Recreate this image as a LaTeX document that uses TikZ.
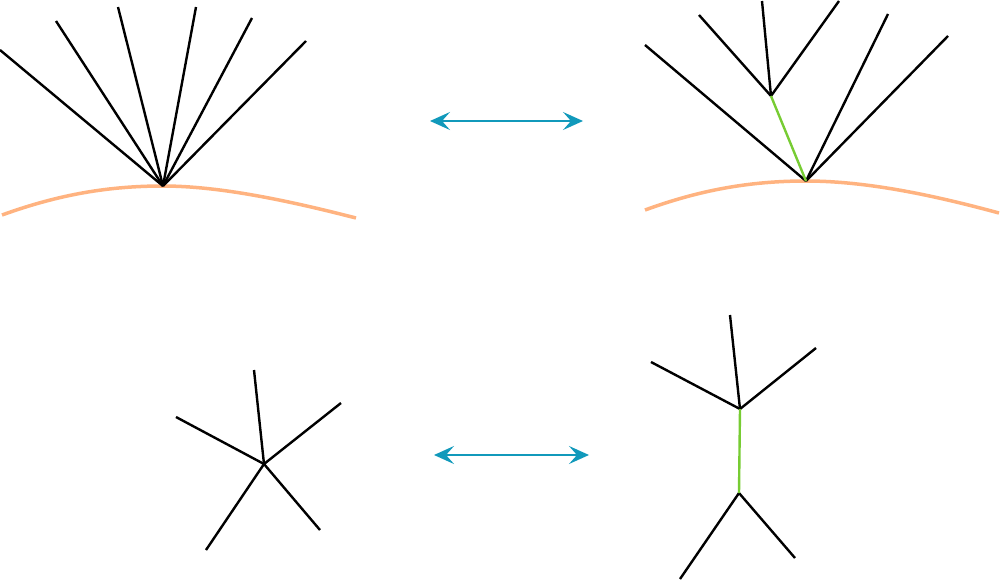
\documentclass[tikz,border=0pt]{standalone}
\usetikzlibrary{arrows.meta}
\definecolor{orng}{HTML}{FFB380}
\definecolor{grn}{HTML}{77CC33}
\definecolor{cyn}{HTML}{1199BB}
\tikzset{edge/.style={line width=2.4pt,black},
 gedge/.style={line width=2.4pt,grn},
 surf/.style={line width=3.5pt,orng},
 dbl/.style={line width=1.8pt,cyn,{Stealth[length=20pt,width=18pt,inset=8pt]}-{Stealth[length=20pt,width=18pt,inset=8pt]}}}
\begin{document}
\begin{tikzpicture}[x=1pt,y=-1pt]
\useasboundingbox (0,0) rectangle (1001,581);
% top left
\coordinate (v1) at (163,186);
\foreach \px/\py [count=\i] in {0/50,56/21,118/7,196/7,252/18,306/41} \coordinate (a\i) at (\px,\py);
\draw[surf] (2,215) .. controls (60,194) and (110,186) .. (v1) .. controls (220,186) and (290,201) .. (356,218);
\foreach \i in {1,...,6} \draw[edge] (v1) -- (a\i);
% top right
\coordinate (v2) at (806,181);
\coordinate (w2) at (771,96);
\coordinate (b1) at (645,45); \coordinate (b2) at (888,14); \coordinate (b3) at (948,36);
\coordinate (c1) at (699,15); \coordinate (c2) at (762,1); \coordinate (c3) at (839,1);
\draw[surf] (645,210) .. controls (700,190) and (750,181) .. (v2) .. controls (870,181) and (940,197) .. (999,213);
\draw[edge] (v2) -- (b1); \draw[edge] (v2) -- (b2); \draw[edge] (v2) -- (b3);
\draw[edge] (w2) -- (c1); \draw[edge] (w2) -- (c2); \draw[edge] (w2) -- (c3);
\draw[gedge] (v2) -- (w2);
% arrows
\coordinate (p1) at (430,121); \coordinate (p2) at (583,121);
\coordinate (q1) at (434,455); \coordinate (q2) at (589,455);
\draw[dbl] (p1) -- (p2);
\draw[dbl] (q1) -- (q2);
% bottom left
\coordinate (v3) at (264,464);
\foreach \px/\py [count=\i] in {176/417,254/370,341/403,206/550,320/530} \coordinate (d\i) at (\px,\py);
\foreach \i in {1,...,5} \draw[edge] (v3) -- (d\i);
% bottom right
\coordinate (u1) at (740,409); \coordinate (u2) at (739,493);
\coordinate (e1) at (651,362); \coordinate (e2) at (730,315); \coordinate (e3) at (816,348);
\coordinate (f1) at (680,579); \coordinate (f2) at (795,558);
\draw[edge] (u1) -- (e1); \draw[edge] (u1) -- (e2); \draw[edge] (u1) -- (e3);
\draw[edge] (u2) -- (f1); \draw[edge] (u2) -- (f2);
\draw[gedge] (u1) -- (u2);
\end{tikzpicture}
\end{document}
